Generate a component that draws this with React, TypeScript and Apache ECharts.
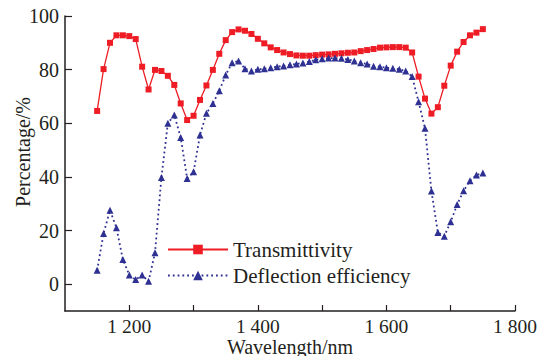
import React, { useEffect, useRef } from "react";
import * as echarts from "echarts";

const wavelengths = [
  1150, 1160, 1170, 1180, 1190, 1200, 1210, 1220, 1230, 1240,
  1250, 1260, 1270, 1280, 1290, 1300, 1310, 1320, 1330, 1340,
  1350, 1360, 1370, 1380, 1390, 1400, 1410, 1420, 1430, 1440,
  1450, 1460, 1470, 1480, 1490, 1500, 1510, 1520, 1530, 1540,
  1550, 1560, 1570, 1580, 1590, 1600, 1610, 1620, 1630, 1640,
  1650, 1660, 1670, 1680, 1690, 1700, 1710, 1720, 1730, 1740, 1750,
];

const transmittivity = [
  64.6, 80.2, 90.0, 92.8, 92.8, 92.5, 91.4, 81.1, 72.6, 79.9,
  79.5, 77.7, 74.3, 67.4, 61.2, 62.8, 68.7, 74.1, 79.9, 85.9,
  91.0, 94.0, 95.0, 94.5, 93.3, 91.5, 89.8, 88.3, 87.3, 86.4,
  85.8, 85.3, 85.2, 85.2, 85.4, 85.6, 85.7, 85.9, 86.1, 86.3,
  86.4, 86.9, 87.3, 87.7, 88.2, 88.3, 88.4, 88.4, 88.2, 86.4,
  77.4, 69.2, 63.6, 66.0, 74.0, 81.5, 86.7, 90.3, 92.8, 93.8, 95.1,
];

const deflection = [
  5.2, 18.9, 27.6, 21.0, 9.2, 3.4, 1.7, 3.4, 1.1, 11.7,
  39.8, 60.0, 63.1, 54.7, 39.4, 41.9, 55.6, 63.7, 67.4, 72.1,
  78.0, 82.6, 83.2, 80.3, 79.5, 80.1, 80.3, 80.7, 81.1, 81.4,
  81.8, 82.1, 82.5, 83.0, 83.7, 84.1, 84.3, 84.3, 84.2, 83.8,
  83.2, 82.6, 82.1, 81.3, 81.1, 80.7, 80.5, 80.1, 79.5, 77.4,
  68.0, 58.1, 34.7, 19.3, 17.9, 23.3, 29.7, 34.8, 38.6, 40.7, 41.5,
];

const xTickValues = [1200, 1300, 1400, 1500, 1600, 1700, 1800];
const xLabelValues = [1200, 1400, 1600, 1800];
const yTickValues = [0, 20, 40, 60, 80, 100];

const seriesNames = ["Transmittivity", "Deflection efficiency"];
const xAxisTitle = "Wavelength/nm";
const yAxisTitle = "Percentage/%";

const FONT = "'Liberation Serif', 'Times New Roman', serif";
const RED = "#ee1c24";
const BLUE = "#2e3192";
const INK = "#231f20";

export default function App() {
  const ref = useRef<HTMLDivElement>(null);
  useEffect(() => {
    if (!ref.current) return;
    const chart = echarts.init(ref.current, null, { renderer: "svg" });
    chart.setOption({
      animation: false,
      backgroundColor: "#ffffff",
      grid: {
        left: 65,
        right: 36,
        top: 16,
        bottom: 45,
        containLabel: false,
        outerBoundsMode: "none",
      },
      legend: {
        orient: "vertical",
        left: 167,
        top: 239,
        padding: 0,
        itemWidth: 60,
        itemHeight: 12,
        itemGap: 5,
        textStyle: { fontFamily: FONT, fontSize: 21, color: INK, lineHeight: 21 },
        data: seriesNames,
      },
      xAxis: {
        type: "value",
        min: 1100,
        max: 1800,
        interval: 100,
        axisLine: { onZero: false, lineStyle: { color: INK, width: 1.5 } },
        axisTick: { inside: true, length: 6, customValues: xTickValues, lineStyle: { color: INK, width: 1.2 } },
        axisLabel: {
          customValues: xLabelValues,
          fontFamily: FONT,
          fontSize: 19.5,
          lineHeight: 19,
          color: INK,
          margin: 6,
          formatter: (v: number) => {
            const s = String(v);
            return s.length > 3 ? s.slice(0, s.length - 3) + " " + s.slice(-3) : s;
          },
        },
        splitLine: { show: false },
      },
      yAxis: {
        type: "value",
        min: -10,
        max: 100,
        axisLine: { show: true, lineStyle: { color: INK, width: 1.5 } },
        axisTick: { show: true, inside: true, length: 7, customValues: yTickValues, lineStyle: { color: INK, width: 1.2 } },
        axisLabel: {
          customValues: yTickValues,
          fontFamily: FONT,
          fontSize: 20,
          color: INK,
          margin: 6,
        },
        splitLine: { show: false },
      },
      graphic: [
        {
          type: "text",
          x: 23,
          y: 152,
          rotation: Math.PI / 2,
          style: {
            text: yAxisTitle,
            fontFamily: FONT,
            fontSize: 20,
            fill: INK,
            align: "center",
            verticalAlign: "middle",
          },
        },
        {
          type: "text",
          x: 290,
          y: 346.5,
          style: {
            text: xAxisTitle,
            fontFamily: FONT,
            fontSize: 20,
            lineHeight: 19,
            fill: INK,
            align: "center",
            verticalAlign: "middle",
          },
        },
      ],
      series: [
        {
          name: seriesNames[0],
          type: "line",
          data: wavelengths.map((w, i) => [w, transmittivity[i]]),
          symbol: "rect",
          symbolSize: 6,
          itemStyle: { color: RED },
          lineStyle: { color: RED, width: 1.3 },
        },
        {
          name: seriesNames[1],
          type: "line",
          data: wavelengths.map((w, i) => [w, deflection[i]]),
          symbol: "triangle",
          symbolSize: 7,
          itemStyle: { color: BLUE },
          lineStyle: { color: BLUE, width: 1.8, type: [1.8, 3] },
        },
      ],
    });
    return () => chart.dispose();
  }, []);
  return (
    <div
      ref={ref}
      style={{ position: "fixed", left: 0, top: 0, width: 551, height: 356 }}
    />
  );
}
